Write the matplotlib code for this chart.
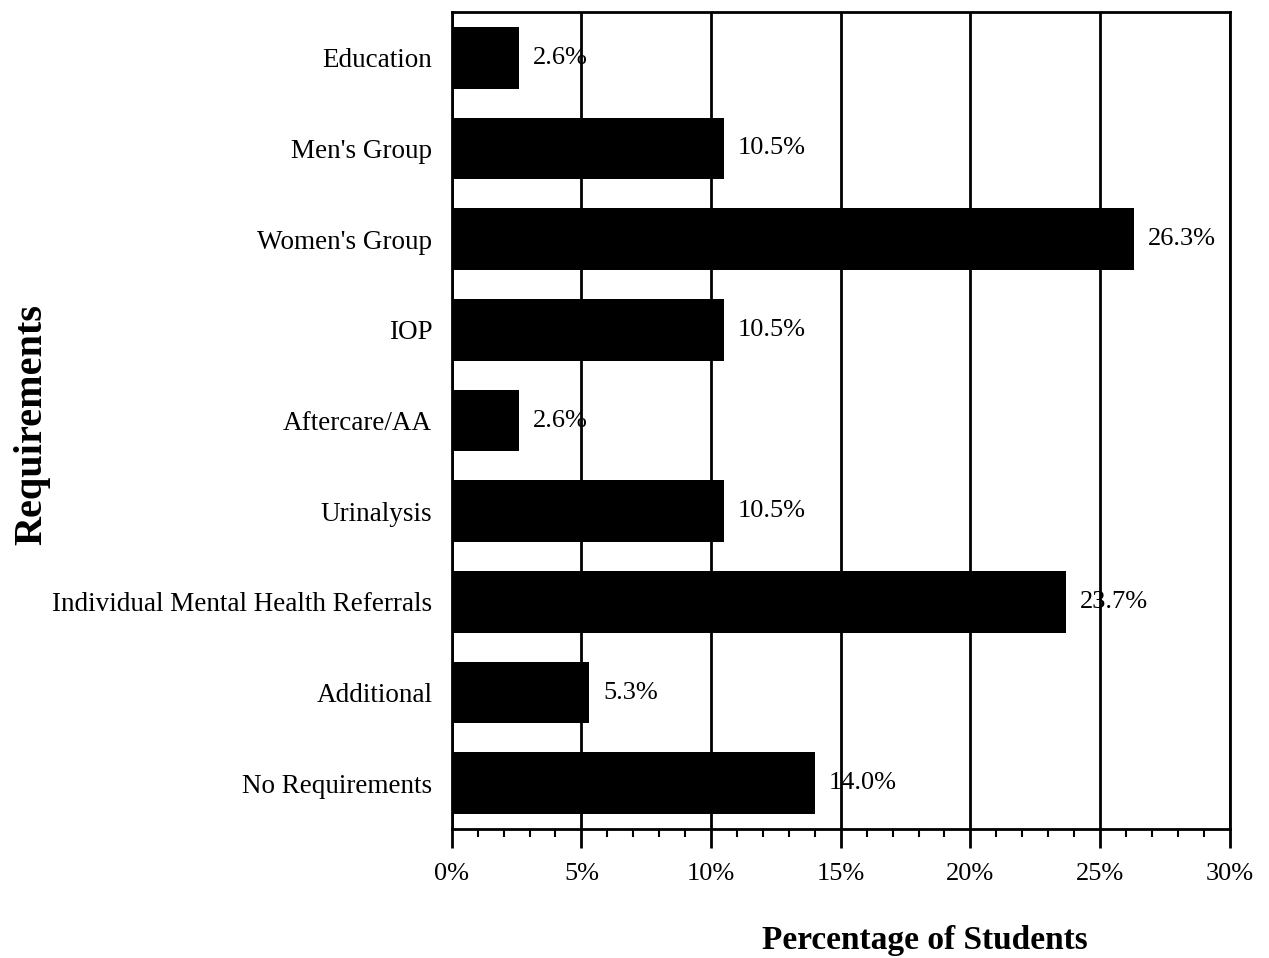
import matplotlib.pyplot as plt
from matplotlib.ticker import MultipleLocator, FuncFormatter

categories = ["Education", "Men's Group", "Women's Group", "IOP", "Aftercare/AA",
              "Urinalysis", "Individual Mental Health Referrals", "Additional",
              "No Requirements"]
percents = [2.6, 10.5, 26.3, 10.5, 2.6, 10.5, 23.7, 5.3, 14.0]
value_labels = ["2.6%", "10.5%", "26.3%", "10.5%", "2.6%", "10.5%", "23.7%", "5.3%", "14.0%"]

plt.rcParams['font.family'] = ['Liberation Serif', 'DejaVu Serif']

fig = plt.figure(figsize=(12.69, 9.58), dpi=100)
ax = fig.add_axes([0.356, 0.135, 0.613, 0.852])

ypos = list(range(len(categories)))
ax.barh(ypos, percents, height=0.68, color="black", zorder=3)

# value labels just right of each bar
for y, v, lab in zip(ypos, percents, value_labels):
    ax.annotate(lab, (v, y), xytext=(10, 0), textcoords="offset points",
                va="center", ha="left", fontsize=19, zorder=4)

ax.set_xlim(0, 30)
ax.set_ylim(len(categories) - 0.5, -0.5)
ax.set_yticks(ypos)
ax.set_yticklabels(categories, fontsize=19.5)
ax.tick_params(axis="y", length=0, pad=14)

ax.xaxis.set_major_locator(MultipleLocator(5))
ax.xaxis.set_minor_locator(MultipleLocator(1))
ax.xaxis.set_major_formatter(FuncFormatter(lambda x, p: "%d%%" % x))
ax.tick_params(axis="x", which="major", length=14, width=2, labelsize=19, pad=11, direction="out")
ax.tick_params(axis="x", which="minor", length=6, width=1.5, direction="out")
ax.grid(axis="x", which="major", color="black", linewidth=2, zorder=1)

for s in ax.spines.values():
    s.set_linewidth(2)
    s.set_color("black")

fig.text(0.025, 0.557, "Requirements", rotation=90, ha="center", va="center",
         fontsize=29, fontweight="bold")
fig.text(0.729, 0.018, "Percentage of Students", ha="center", va="center",
         fontsize=24, fontweight="bold")

fig.savefig("out.png", dpi=100)
